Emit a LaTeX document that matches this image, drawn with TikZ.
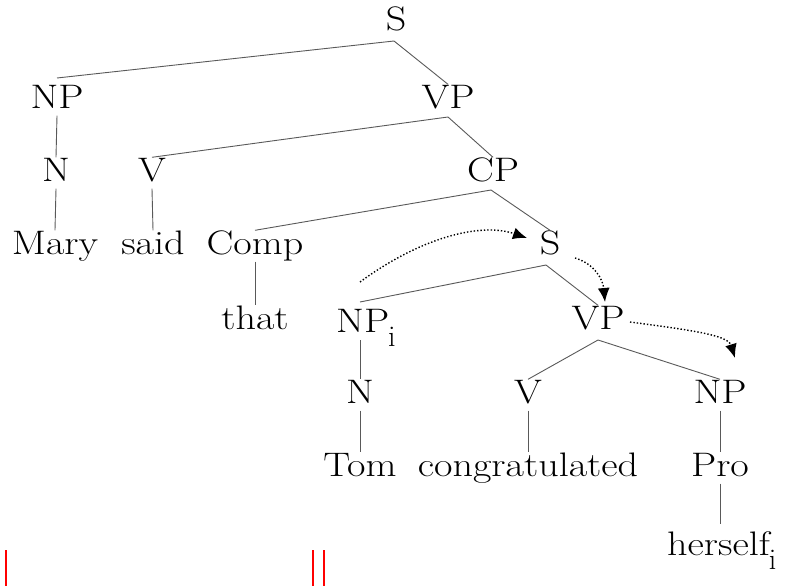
\documentclass[tikz,border=0pt]{standalone}
\usepackage{graphicx}
\usetikzlibrary{arrows.meta}
\newcommand\tx[1]{\scalebox{1.18}[1]{#1}}
\newcommand\subi{\kern-1pt\raisebox{-14pt}{\fontsize{30}{30}\selectfont i}}
\begin{document}
\begin{tikzpicture}[x=1pt,y=-1pt,
  lab/.style={font=\fontsize{34}{40}\selectfont, inner sep=0pt, text height=24pt, text depth=7pt},
  br/.style={draw=black!65, line width=0.9pt},
  mv/.style={dotted, line width=1.4pt, -{Latex[length=14pt,width=12pt]}},
  red/.style={draw=red, line width=1.6pt}]
\useasboundingbox (0,0) rectangle (793,586);
% labels
\node[lab] (S) at (396,22) {\tx{S}};
\node[lab] (NP1) at (57,100) {\tx{NP}};
\node[lab] (VP1) at (448,100) {\tx{VP}};
\node[lab] (N1) at (56,173) {\tx{N}};
\node[lab] (V1) at (152,173) {\tx{V}};
\node[lab] (CP) at (493,173) {\tx{CP}};
\node[lab] (Mary) at (55,246) {\tx{Mary}};
\node[lab] (said) at (153,246) {\tx{said}};
\node[lab] (Comp) at (255,246) {\tx{Comp}};
\node[lab] (S2) at (550,246) {\tx{S}};
\node[lab] (that) at (255,321) {\tx{that}};
\node[lab, anchor=base west] (NPi) at (336,332) {\tx{NP}\subi};
\node[lab] (VP2) at (598,321) {\tx{VP}};
\node[lab] (N2) at (360,395) {\tx{N}};
\node[lab] (V2) at (528,395) {\tx{V}};
\node[lab] (NP3) at (720,395) {\tx{NP}};
\node[lab] (Tom) at (360,468) {\tx{Tom}};
\node[lab] (cong) at (528,468) {\tx{congratulated}};
\node[lab] (Pro) at (720,468) {\tx{Pro}};
\node[lab, anchor=base west] (herself) at (667,555) {\tx{herself}\subi};
% coordinates for branch points
\coordinate (aS) at (394,41);
\coordinate (aVP1) at (448,117);
\coordinate (aCP) at (491,190);
\coordinate (aS2) at (546,265);
\coordinate (aVP2) at (598,340);
\coordinate (tNPi) at (360,302);
\coordinate (tHer) at (720,524);
% branches
\draw[br] (aS) -- (57,78);
\draw[br] (aS) -- (VP1.north);
\draw[br] (aVP1) -- (V1.north);
\draw[br] (aVP1) -- (CP.north);
\draw[br] (aCP) -- (Comp.north);
\draw[br] (aCP) -- (S2.north);
\draw[br] (aS2) -- (tNPi);
\draw[br] (aS2) -- (VP2.north);
\draw[br] (aVP2) -- (V2.north);
\draw[br] (aVP2) -- (NP3.north);
\draw[br] (NP1.south) -- (N1.north);
\draw[br] (N1.south) -- (Mary.north);
\draw[br] (V1.south) -- (said.north);
\draw[br] (Comp.south) -- (that.north);
\draw[br] (360,340) -- (N2.north);
\draw[br] (N2.south) -- (Tom.north);
\draw[br] (V2.south) -- (cong.north);
\draw[br] (NP3.south) -- (Pro.north);
\draw[br] (Pro.south) -- (tHer);
% movement arrows
\coordinate (m1s) at (360,282);
\coordinate (m1e) at (527,238);
\coordinate (m2s) at (575,258);
\coordinate (m2e) at (605,302);
\coordinate (m3s) at (630,322);
\coordinate (m3e) at (735,358);
\draw[mv] (m1s) .. controls (420,238) and (480,222) .. (m1e);
\draw[mv] (m2s) .. controls (595,264) and (603,280) .. (m2e);
\draw[mv] (m3s) .. controls (690,330) and (728,335) .. (m3e);
% red marks
\draw[red] (6,550) -- (6,586);
\draw[red] (313,550) -- (313,586);
\draw[red] (324,550) -- (324,586);
\end{tikzpicture}
\end{document}
